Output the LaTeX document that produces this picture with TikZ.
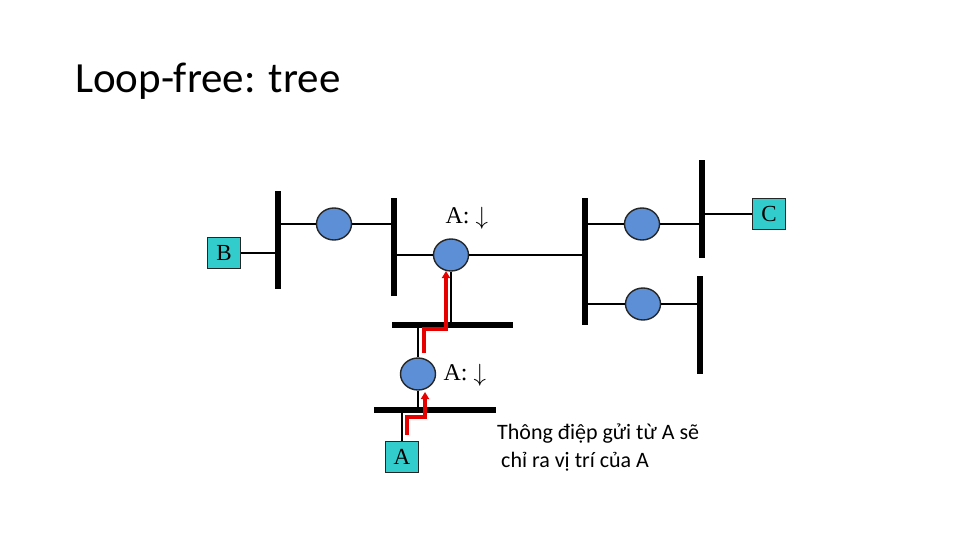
\documentclass[tikz,border=0pt]{standalone}
\usepackage{fontspec}
\setmainfont{Carlito}
\newfontfamily\boxfont{Liberation Serif}
\usetikzlibrary{arrows.meta,positioning,shapes.geometric,calc}
\definecolor{brblue}{RGB}{92,143,214}
\definecolor{hostcyan}{RGB}{51,204,204}
\definecolor{fwdred}{RGB}{230,0,0}

\begin{document}
\begin{tikzpicture}[
  x=1pt, y=-1pt,
  vbus/.style={fill=black, inner sep=0pt, minimum width=6pt},
  hbus/.style={fill=black, inner sep=0pt, minimum height=6pt},
  bridge/.style={ellipse, draw=black!85, line width=1.4pt, fill=brblue, inner sep=0pt,
                 minimum width=35pt, minimum height=32pt},
  host/.style={draw=black!85, line width=1pt, fill=hostcyan, inner sep=0pt,
               minimum width=33pt, minimum height=31pt, font=\boxfont\fontsize{23}{23}\selectfont},
  link/.style={line width=1.8pt, black},
  fwd/.style={-{Triangle[length=7pt,width=8pt]}, line width=3.2pt, fwdred},
  tbl/.style={font=\boxfont\fontsize{24}{24}\selectfont}
]
\useasboundingbox (0,0) rectangle (960,540);
% ---- title ----
\node[anchor=base west, inner sep=0pt, font=\fontsize{43}{50}\selectfont] (title) at (75,93) {Loop-free: tree};
% ---- LAN segments ----
\node[vbus, minimum height=98pt] (bus1) at (278,240) {};
\node[vbus, minimum height=98pt] (bus2) at (394,247) {};
\node[vbus, minimum height=127pt] (bus3) at (585,261.5) {};
\node[vbus, minimum height=98pt] (bus6) at (702,209) {};
\node[vbus, minimum height=98pt] (bus7) at (700,325) {};
\node[hbus, minimum width=121pt] (bus4) at (452.5,325) {};
\node[hbus, minimum width=122pt] (bus5) at (435,410) {};
% ---- bridges ----
\node[bridge] (c1) at (334,224) {};
\node[bridge] (c2) at (451,255) {};
\node[bridge] (c3) at (418,374) {};
\node[bridge] (c4) at (642,224) {};
\node[bridge] (c5) at (643,304) {};
% ---- hosts ----
\node[host] (B) at (224,253) {B};
\node[host] (A) at (402,457) {A};
\node[host] (C) at (769,214) {C};
% ---- links ----
\draw[link] (B.east) -- (B.east -| bus1.west);
\draw[link] (c1.west -| bus1.east) -- (c1.west);
\draw[link] (c1.east) -- (c1.east -| bus2.west);
\draw[link] (c2.west -| bus2.east) -- (c2.west);
\draw[link] (c2.east) -- (c2.east -| bus3.west);
\draw[link] (c2.south) -- (c2.south |- bus4.north);
\draw[link] (c3.north |- bus4.south) -- (c3.north);
\draw[link] (c3.south) -- (c3.south |- bus5.north);
\draw[link] (A.north) -- (A.north |- bus5.south);
\draw[link] (c4.west -| bus3.east) -- (c4.west);
\draw[link] (c4.east) -- (c4.east -| bus6.west);
\draw[link] (C.west -| bus6.east) -- (C.west);
\draw[link] (c5.west -| bus3.east) -- (c5.west);
\draw[link] (c5.east) -- (c5.east -| bus7.west);
% ---- learned entries ----
\node[tbl, anchor=west] (t2) at (442,218) {A: \raisebox{-1pt}{\fontsize{28}{28}\selectfont$\downarrow$}};
\node[tbl, anchor=west] (t3) at (440,375) {A: \raisebox{-1pt}{\fontsize{28}{28}\selectfont$\downarrow$}};
% ---- frame from A ----
\coordinate (r2) at (407,435);
\coordinate (r2t) at (425,392);
\draw[fwd] (r2) -- ++(0,-18) -| (r2t);
\coordinate (r1) at (424,353);
\coordinate (r1t) at (446,271);
\draw[fwd] (r1) -- ++(0,-24) -| (r1t);
% ---- note ----
\node[anchor=base west, inner sep=0pt, align=left, font=\fontsize{22}{28}\selectfont] (note) at (497,467)
  {Thông điệp gửi từ A sẽ\\\hspace{4pt}chỉ ra vị trí của A};
\end{tikzpicture}
\end{document}
